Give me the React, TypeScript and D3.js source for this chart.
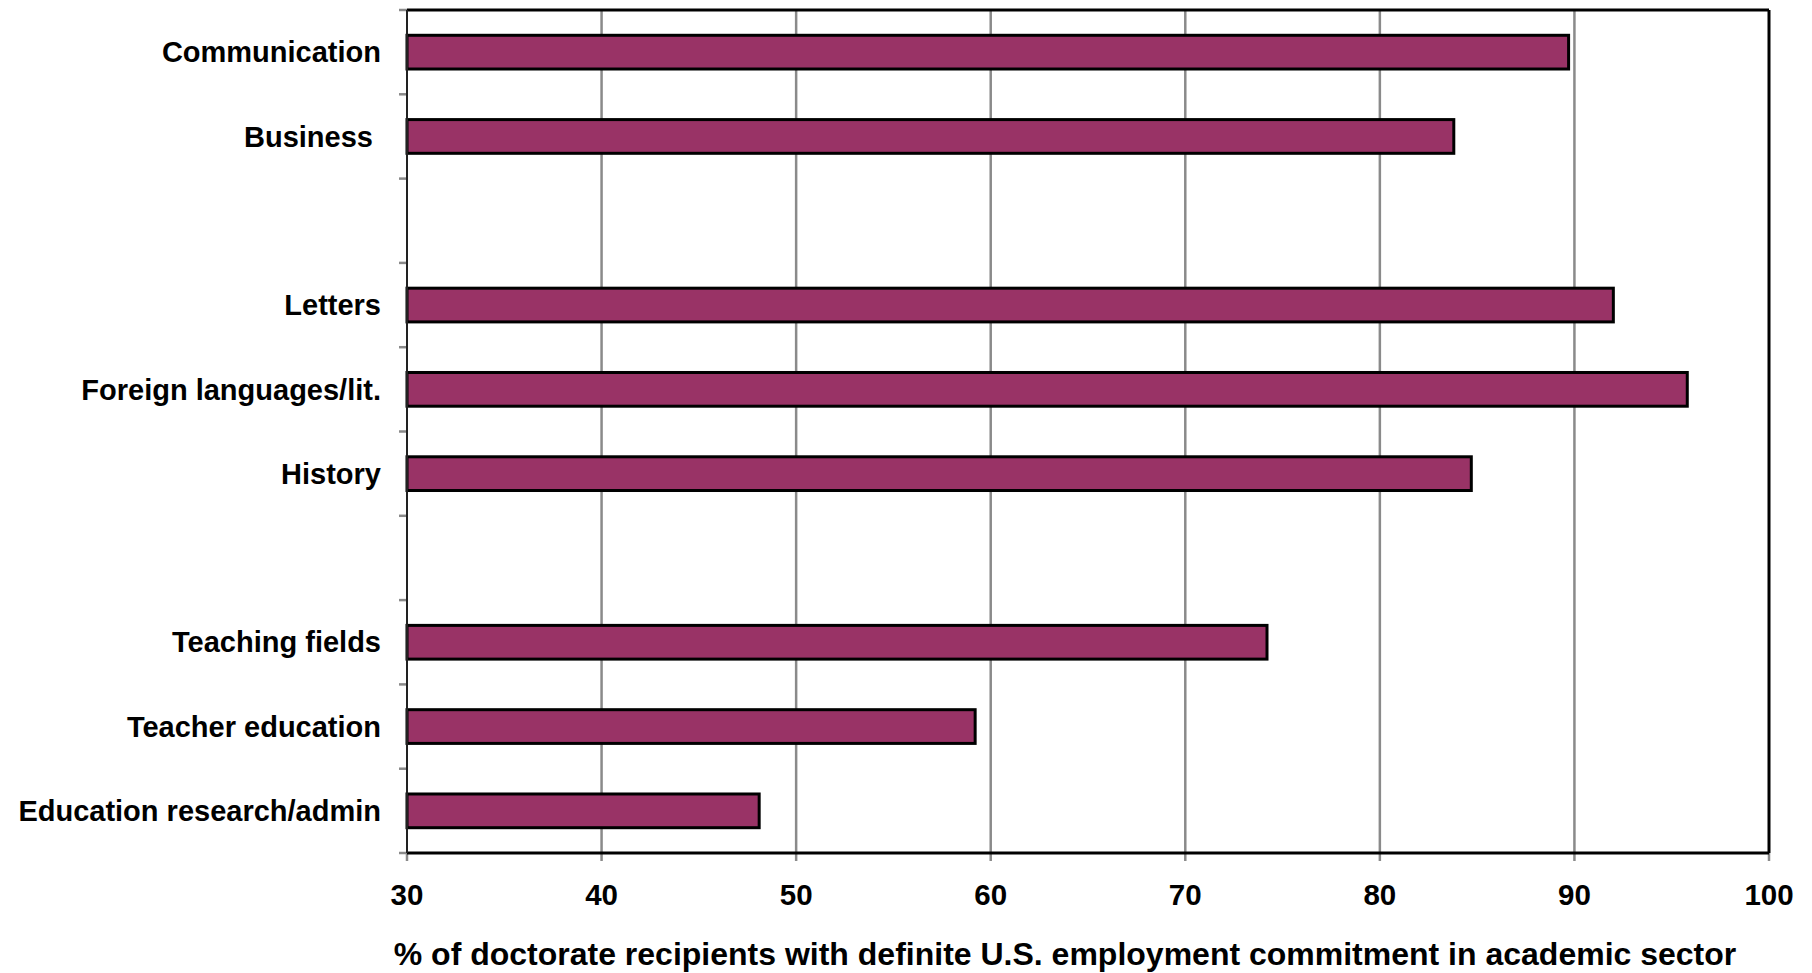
import React from "react";
import * as d3 from "d3";

const categories = [
  "Communication",
  "Business ",
  "",
  "Letters",
  "Foreign languages/lit.",
  "History",
  " ",
  "Teaching fields",
  "Teacher education",
  "Education research/admin",
];
const values: (number | null)[] = [89.7, 83.8, null, 92.0, 95.8, 84.7, null, 74.2, 59.2, 48.1];
const xTicks = [30, 40, 50, 60, 70, 80, 90, 100];
const xTitle = "% of doctorate recipients with definite U.S. employment commitment in academic sector";

const W = 1812;
const H = 973;
const M = { left: 407, right: 1769, top: 10, bottom: 853 };

export default function App() {
  const x = d3.scaleLinear().domain([30, 100]).range([M.left, M.right]);
  const idx = categories.map((_, i) => String(i));
  const y = d3.scaleBand().domain(idx).range([M.top, M.bottom]).paddingInner(0).paddingOuter(0);
  const bw = y.bandwidth();
  const barH = bw * 0.4;
  const font = "'Liberation Sans', Arial, sans-serif";
  const boundaries = d3.range(categories.length + 1).map((i) => M.top + i * bw);

  return (
    <svg width={W} height={H} style={{ position: "absolute", left: 0, top: 0, background: "#fff" }}>
      <rect x={0} y={0} width={W} height={H} fill="#fff" />
      {/* gridlines */}
      {xTicks.slice(1, -1).map((t) => (
        <line key={"g" + t} x1={x(t)} x2={x(t)} y1={M.top} y2={M.bottom} stroke="#8a8a8a" strokeWidth={2.5} />
      ))}
      {/* y ticks */}
      {boundaries.map((b, i) => (
        <line key={"yt" + i} x1={M.left - 8} x2={M.left} y1={b} y2={b} stroke="#8a8a8a" strokeWidth={2.5} />
      ))}
      {/* x ticks */}
      {xTicks.map((t) => (
        <line key={"xt" + t} x1={x(t)} x2={x(t)} y1={M.bottom} y2={M.bottom + 8} stroke="#8a8a8a" strokeWidth={2.5} />
      ))}
      {/* bars */}
      {values.map((v, i) =>
        v == null ? null : (
          <rect
            key={"b" + i}
            x={x(30)}
            y={(y(String(i)) as number) + (bw - barH) / 2}
            width={x(v) - x(30)}
            height={barH}
            fill="#993366"
            stroke="#000"
            strokeWidth={3}
          />
        )
      )}
      {/* frame */}
      <line x1={M.left} x2={M.right} y1={M.top} y2={M.top} stroke="#000" strokeWidth={3} />
      <line x1={M.right} x2={M.right} y1={M.top} y2={M.bottom} stroke="#000" strokeWidth={3} />
      <line x1={M.left} x2={M.right} y1={M.bottom} y2={M.bottom} stroke="#000" strokeWidth={3} />
      <line x1={M.left} x2={M.left} y1={M.top} y2={M.bottom} stroke="#222" strokeWidth={2} />
      {/* category labels */}
      {categories.map((c, i) =>
        c.trim() === "" ? null : (
          <text
            key={"c" + i}
            x={M.left - 26}
            y={(y(String(i)) as number) + bw / 2}
            dy="0.35em"
            textAnchor="end"
            fontFamily={font}
            fontWeight="bold"
            fontSize={29}
            style={{ whiteSpace: "pre" }}
          >
            {c}
          </text>
        )
      )}
      {/* x tick labels */}
      {xTicks.map((t) => (
        <text
          key={"xl" + t}
          x={x(t)}
          y={905}
          textAnchor="middle"
          fontFamily={font}
          fontWeight="bold"
          fontSize={29.5}
        >
          {t}
        </text>
      ))}
      <text
        x={1065}
        y={965}
        textAnchor="middle"
        fontFamily={font}
        fontWeight="bold"
        fontSize={32}
      >
        {xTitle}
      </text>
    </svg>
  );
}
